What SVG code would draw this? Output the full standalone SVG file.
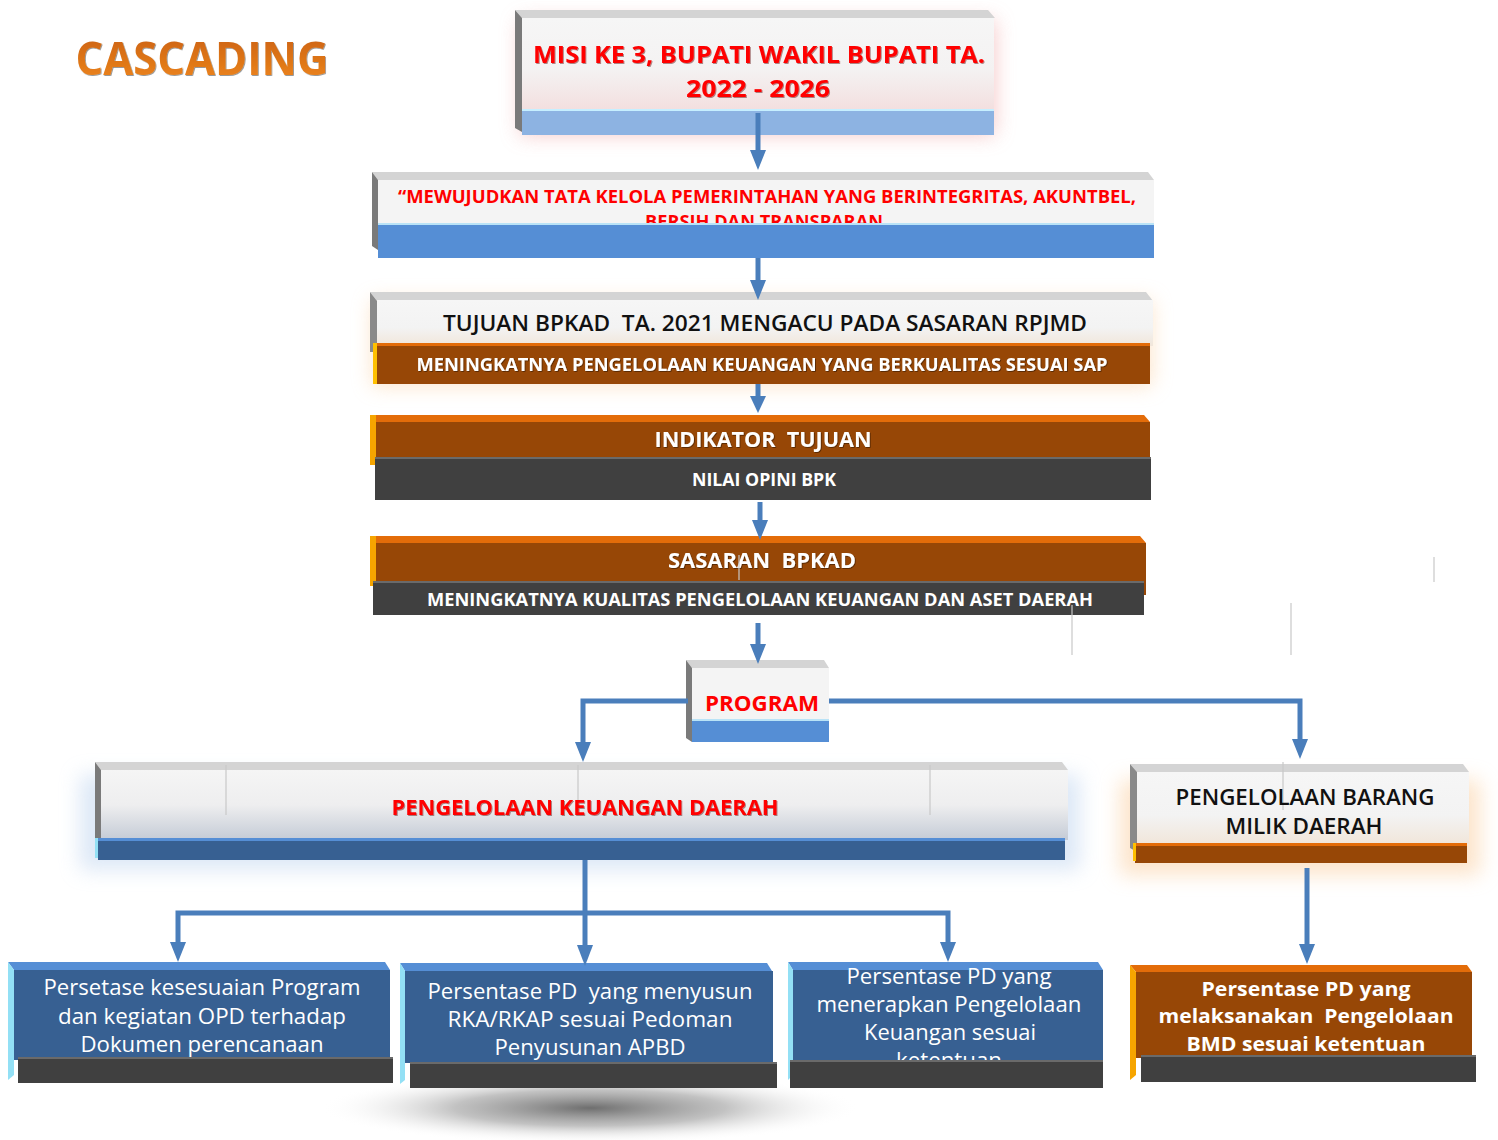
<svg xmlns="http://www.w3.org/2000/svg" width="1498" height="1140" viewBox="0 0 1498 1140">
<defs>
<style>
.bev{fill:#d4d4d4}
.side{fill:#7a7a7a}
.blueBar{fill:#558ed5}
.brown{fill:#974706}
.orangeEdge{fill:#e36c09}
.dark{fill:#404040}
.navy{fill:#376092}
.navyTop{fill:#558ed5}
.cyan{fill:#93e0f5}
.t{font-family:"Open Sans","Liberation Sans",sans-serif;text-anchor:middle;white-space:pre}
.red{fill:#ff0000;font-weight:bold}
.blk{fill:#111111;font-weight:600}
.wht{fill:#ffffff;font-weight:bold}
.whtn{fill:#ffffff;font-weight:normal}
.con{fill:none;stroke:#4a7ebb;stroke-width:5}
.stray{stroke:#c8c8c8;stroke-width:1.2}
</style>
<linearGradient id="gFacePink" x1="0" y1="0" x2="0" y2="1">
<stop offset="0" stop-color="#f6f6f6"/>
<stop offset="0.55" stop-color="#f4f2f2"/>
<stop offset="1" stop-color="#f3dede"/>
</linearGradient>
<linearGradient id="gFaceOr" x1="0" y1="0" x2="0" y2="1">
<stop offset="0" stop-color="#f6f6f6"/>
<stop offset="0.6" stop-color="#f3f3f3"/>
<stop offset="1" stop-color="#f1e6da"/>
</linearGradient>
<linearGradient id="gFaceBlue" x1="0" y1="0" x2="0" y2="1">
<stop offset="0" stop-color="#f5f5f5"/>
<stop offset="0.5" stop-color="#eeeeef"/>
<stop offset="1" stop-color="#c4cbd6"/>
</linearGradient>
<linearGradient id="gCasc" x1="0" y1="0" x2="0" y2="1">
<stop offset="0" stop-color="#c65c10"/>
<stop offset="1" stop-color="#f18a1e"/>
</linearGradient>
<radialGradient id="gShadow" cx="0.5" cy="0.5" r="0.5">
<stop offset="0" stop-color="#6e6e6e"/>
<stop offset="0.5" stop-color="#a8a8a8" stop-opacity="0.7"/>
<stop offset="1" stop-color="#ffffff" stop-opacity="0"/>
</radialGradient>
<filter id="glow" x="-10%" y="-50%" width="120%" height="200%">
<feGaussianBlur stdDeviation="10"/>
</filter>
<filter id="ts" x="-5%" y="-20%" width="110%" height="140%">
<feDropShadow dx="1" dy="1" stdDeviation="0.6" flood-color="#5a0000" flood-opacity="0.45"/>
</filter>
<filter id="tsd" x="-5%" y="-20%" width="110%" height="140%">
<feDropShadow dx="0.8" dy="0.8" stdDeviation="0.5" flood-color="#000000" flood-opacity="0.5"/>
</filter>
</defs>

<rect x="0" y="0" width="1498" height="1140" fill="#ffffff"/>

<!-- bottom shadow -->
<ellipse cx="590" cy="1108" rx="270" ry="36" fill="url(#gShadow)"/>

<g id="title">
<text x="202" y="75" class="t" font-size="46" font-weight="bold" fill="url(#gCasc)" textLength="253" lengthAdjust="spacingAndGlyphs" filter="url(#tsd)">CASCADING</text>
</g>

<g id="node-misi">
<rect x="520" y="20" width="475" height="115" fill="#f3b3b3" opacity="0.7" filter="url(#glow)"/>
<polygon class="bev" points="515,10 988,10 995,18 522,18"/>
<polygon class="side" points="515,10 522,18 522,132 515,128"/>
<rect x="522" y="18" width="472" height="94" fill="url(#gFacePink)"/>
<rect x="522" y="110" width="472" height="25" fill="#8db3e2"/>
<rect x="522" y="109" width="472" height="2" fill="#c6efff"/>
<text x="759" y="63" class="t red" font-size="24" textLength="452" lengthAdjust="spacingAndGlyphs" filter="url(#ts)">MISI KE 3, BUPATI WAKIL BUPATI TA.</text>
<text x="758" y="97" class="t red" font-size="24" textLength="144" lengthAdjust="spacingAndGlyphs" filter="url(#ts)">2022 - 2026</text>
</g>

<g id="node-visi">
<polygon class="bev" points="372,172 1148,172 1154,180 378,180"/>
<polygon class="side" points="372,172 378,180 378,250 372,246"/>
<rect x="378" y="180" width="776" height="46" fill="#f4f4f4"/>
<text x="767" y="203" class="t red" font-size="18" textLength="738" lengthAdjust="spacingAndGlyphs">“MEWUJUDKAN TATA KELOLA PEMERINTAHAN YANG BERINTEGRITAS, AKUNTBEL,</text>
<text x="764" y="228" class="t red" font-size="18" textLength="238" lengthAdjust="spacingAndGlyphs">BERSIH DAN TRANSPARAN</text>
<rect x="378" y="224" width="776" height="34" class="blueBar"/>
<rect x="378" y="223" width="776" height="2" fill="#b9e3f7"/>
</g>

<g id="node-tujuan">
<rect x="372" y="300" width="780" height="86" fill="#fbd3a8" opacity="0.6" filter="url(#glow)"/>
<polygon class="bev" points="370,292 1146,292 1153,301 377,301"/>
<polygon points="370,292 377,301 377,352 370,352" fill="#8a8a8a"/>
<rect x="377" y="300" width="776" height="46" fill="url(#gFaceOr)"/>
<text x="765" y="331" class="t blk" font-size="21" textLength="644" lengthAdjust="spacingAndGlyphs">TUJUAN BPKAD  TA. 2021 MENGACU PADA SASARAN RPJMD</text>
<rect x="373" y="343" width="777" height="41" class="brown"/>
<rect x="373" y="343" width="777" height="3" class="orangeEdge"/>
<rect x="373" y="343" width="4" height="41" fill="#ffc000"/>
<text x="762" y="371" class="t wht" font-size="18" textLength="691" lengthAdjust="spacingAndGlyphs" filter="url(#tsd)">MENINGKATNYA PENGELOLAAN KEUANGAN YANG BERKUALITAS SESUAI SAP</text>
</g>

<g id="node-indikator">
<polygon class="orangeEdge" points="370,415 1144,415 1150,422 376,422"/>
<rect x="370" y="415" width="6" height="50" fill="#f6a500"/>
<rect x="376" y="422" width="774" height="38" class="brown"/>
<text x="763" y="447" class="t wht" font-size="21" textLength="217" lengthAdjust="spacingAndGlyphs" filter="url(#tsd)">INDIKATOR  TUJUAN</text>
<rect x="375" y="457" width="776" height="43" class="dark"/>
<rect x="375" y="457" width="776" height="2" fill="#6a6a6a"/>
<text x="764" y="486" class="t wht" font-size="17" textLength="144" lengthAdjust="spacingAndGlyphs">NILAI OPINI BPK</text>
</g>

<g id="node-sasaran">
<polygon class="orangeEdge" points="370,536 1140,536 1146,543 376,543"/>
<rect x="370" y="536" width="6" height="50" fill="#f6a500"/>
<rect x="376" y="543" width="770" height="52" class="brown"/>
<text x="762" y="568" class="t wht" font-size="21" textLength="188" lengthAdjust="spacingAndGlyphs" filter="url(#tsd)">SASARAN  BPKAD</text>
<rect x="373" y="581" width="771" height="34" class="dark"/>
<rect x="373" y="581" width="771" height="2" fill="#6a6a6a"/>
<text x="760" y="606" class="t wht" font-size="17" textLength="666" lengthAdjust="spacingAndGlyphs">MENINGKATNYA KUALITAS PENGELOLAAN KEUANGAN DAN ASET DAERAH</text>
</g>

<g id="node-program">
<polygon class="bev" points="686,660 824,660 829,668 692,668"/>
<polygon class="side" points="686,660 692,668 692,742 686,738"/>
<rect x="692" y="668" width="137" height="54" fill="#f4f4f4"/>
<text x="762" y="711" class="t red" font-size="22" textLength="114" lengthAdjust="spacingAndGlyphs">PROGRAM</text>
<rect x="692" y="720" width="137" height="22" class="blueBar"/>
<rect x="692" y="719" width="137" height="2" fill="#b9e3f7"/>
</g>

<g id="node-pkd">
<rect x="80" y="775" width="1000" height="95" fill="#c6d9f1" opacity="0.6" filter="url(#glow)"/>
<polygon class="bev" points="95,762 1062,762 1068,770 101,770"/>
<polygon class="side" points="95,762 101,770 101,845 95,840"/>
<rect x="101" y="770" width="967" height="70" fill="url(#gFaceBlue)"/>
<line x1="226" y1="765" x2="226" y2="815" class="stray"/>
<line x1="578" y1="765" x2="578" y2="815" class="stray"/>
<line x1="930" y1="765" x2="930" y2="815" class="stray"/>
<text x="585" y="815" class="t red" font-size="22" textLength="387" lengthAdjust="spacingAndGlyphs" filter="url(#ts)">PENGELOLAAN KEUANGAN DAERAH</text>
<rect x="98" y="838" width="967" height="22" fill="#376092"/>
<rect x="98" y="838" width="967" height="3" fill="#558ed5"/>
<rect x="95" y="838" width="3" height="20" fill="#93e0f5"/>
</g>

<g id="node-pbmd">
<rect x="1120" y="780" width="360" height="95" fill="#fbd3a8" opacity="0.6" filter="url(#glow)"/>
<polygon class="bev" points="1130,764 1463,764 1469,772 1137,772"/>
<polygon points="1130,764 1137,772 1137,852 1130,848" fill="#8a8a8a"/>
<rect x="1137" y="772" width="332" height="72" fill="url(#gFaceOr)"/>
<line x1="1283" y1="762" x2="1283" y2="810" class="stray"/>
<text x="1305" y="805" class="t blk" font-size="21" textLength="259" lengthAdjust="spacingAndGlyphs">PENGELOLAAN BARANG</text>
<text x="1304" y="834" class="t blk" font-size="21" textLength="157" lengthAdjust="spacingAndGlyphs">MILIK DAERAH</text>
<rect x="1135" y="843" width="332" height="20" class="brown"/>
<rect x="1135" y="843" width="332" height="3" class="orangeEdge"/>
<rect x="1133" y="843" width="3" height="18" fill="#ffc000"/>
</g>

<g id="node-b1">
<polygon class="navyTop" points="8,962 385,962 390,970 14,970"/>
<polygon class="cyan" points="8,962 14,970 14,1075 8,1080"/>
<rect x="14" y="970" width="376" height="90" class="navy"/>
<text x="202" y="995" class="t whtn" font-size="21" textLength="317" lengthAdjust="spacingAndGlyphs">Persetase kesesuaian Program</text>
<text x="202" y="1024" class="t whtn" font-size="21" textLength="288" lengthAdjust="spacingAndGlyphs">dan kegiatan OPD terhadap</text>
<text x="202" y="1052" class="t whtn" font-size="21" textLength="243" lengthAdjust="spacingAndGlyphs">Dokumen perencanaan</text>
<rect x="18" y="1057" width="375" height="26" class="dark"/>
<rect x="18" y="1057" width="375" height="2" fill="#6a6a6a"/>
</g>

<g id="node-b2">
<polygon class="navyTop" points="400,963 767,963 772,971 405,971"/>
<polygon class="cyan" points="400,963 405,971 405,1080 400,1084"/>
<rect x="405" y="971" width="368" height="92" class="navy"/>
<text x="590" y="999" class="t whtn" font-size="21" textLength="325" lengthAdjust="spacingAndGlyphs">Persentase PD  yang menyusun</text>
<text x="590" y="1027" class="t whtn" font-size="21" textLength="285" lengthAdjust="spacingAndGlyphs">RKA/RKAP sesuai Pedoman</text>
<text x="590" y="1055" class="t whtn" font-size="21" textLength="191" lengthAdjust="spacingAndGlyphs">Penyusunan APBD</text>
<rect x="410" y="1062" width="367" height="26" class="dark"/>
<rect x="410" y="1062" width="367" height="2" fill="#6a6a6a"/>
</g>

<g id="node-b3">
<polygon class="navyTop" points="788,962 1098,962 1103,970 793,970"/>
<polygon class="cyan" points="788,962 793,970 793,1075 788,1080"/>
<rect x="793" y="970" width="310" height="92" class="navy"/>
<text x="949" y="984" class="t whtn" font-size="21" textLength="205" lengthAdjust="spacingAndGlyphs">Persentase PD yang</text>
<text x="949" y="1012" class="t whtn" font-size="21" textLength="265" lengthAdjust="spacingAndGlyphs">menerapkan Pengelolaan</text>
<text x="950" y="1040" class="t whtn" font-size="21" textLength="172" lengthAdjust="spacingAndGlyphs">Keuangan sesuai</text>
<text x="949" y="1068" class="t whtn" font-size="21" textLength="106" lengthAdjust="spacingAndGlyphs">ketentuan</text>
<rect x="790" y="1060" width="313" height="28" class="dark"/>
<rect x="790" y="1060" width="313" height="2" fill="#6a6a6a"/>
</g>

<g id="node-b4">
<polygon class="orangeEdge" points="1130,965 1467,965 1472,972 1136,972"/>
<polygon points="1130,965 1136,972 1136,1075 1130,1080" fill="#f6a500"/>
<rect x="1136" y="972" width="336" height="86" class="brown"/>
<text x="1306" y="996" class="t wht" font-size="20" textLength="209" lengthAdjust="spacingAndGlyphs">Persentase PD yang</text>
<text x="1306" y="1023" class="t wht" font-size="20" textLength="295" lengthAdjust="spacingAndGlyphs">melaksanakan  Pengelolaan</text>
<text x="1306" y="1051" class="t wht" font-size="20" textLength="239" lengthAdjust="spacingAndGlyphs">BMD sesuai ketentuan</text>
<rect x="1141" y="1055" width="335" height="27" class="dark"/>
<rect x="1141" y="1055" width="335" height="2" fill="#6a6a6a"/>
</g>

<g id="connectors">
<path class="con" d="M758,113 V152"/>
<path class="con" d="M758,258 V282"/>
<path class="con" d="M758,384 V398"/>
<path class="con" d="M760,502 V522"/>
<path class="con" d="M758,623 V646"/>
<path class="con" d="M688,701 H583 V744"/>
<path class="con" d="M829,701 H1300 V741"/>
<path class="con" d="M585,860 V947"/>
<path class="con" d="M585,913 H178 V944"/>
<path class="con" d="M585,913 H948 V944"/>
<path class="con" d="M1307,868 V946"/>
<g fill="#4a7ebb">
<polygon points="750,150 766,150 758,170"/>
<polygon points="750,280 766,280 758,300"/>
<polygon points="750,396 766,396 758,413"/>
<polygon points="752,520 768,520 760,540"/>
<polygon points="750,644 766,644 758,664"/>
<polygon points="575,742 591,742 583,762"/>
<polygon points="1292,739 1308,739 1300,759"/>
<polygon points="577,945 593,945 585,966"/>
<polygon points="170,942 186,942 178,962"/>
<polygon points="940,942 956,942 948,962"/>
<polygon points="1299,944 1315,944 1307,964"/>
</g>
</g>

<g id="artifacts">
<line x1="739" y1="555" x2="739" y2="580" class="stray"/>
<line x1="1072" y1="605" x2="1072" y2="655" class="stray"/>
<line x1="1291" y1="603" x2="1291" y2="655" class="stray"/>
<line x1="1434" y1="557" x2="1434" y2="582" class="stray"/>
</g>
</svg>
